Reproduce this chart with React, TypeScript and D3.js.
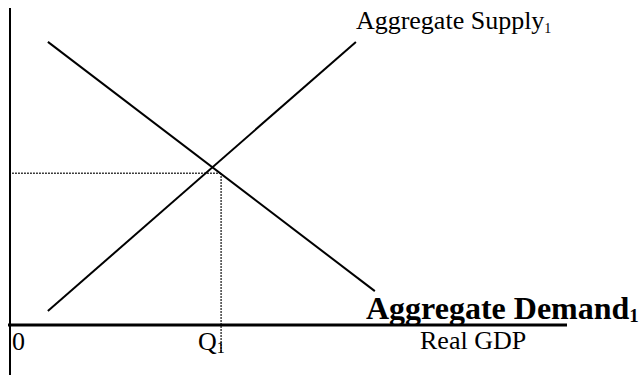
import React from 'react';
import * as d3 from 'd3';

// curve endpoints in chart units (quantity, price level)
const demandQ = [0.68, 6.55];
const demandP = [8.93, 1.07];
const supplyQ = [0.68, 6.21];
const supplyP = [0.44, 8.93];

// dotted guide to the equilibrium
const eqQ = 3.79;
const eqP = 4.79;

const supplyLabel = 'Aggregate Supply';
const demandLabel = 'Aggregate Demand';
const xLabel = 'Real GDP';
const originLabel = '0';
const qLabel = 'Q';
const subLabel = '1';

const W = 640;
const H = 375;
const serif = '"Liberation Serif", "Times New Roman", serif';

const App = () => {
  // axis origin sits at (10, 325)
  const x = d3.scaleLinear().domain([0, 10]).range([10, 567]);
  const y = d3.scaleLinear().domain([0, 10]).range([325, 8]);

  const line = d3.line<[number, number]>()
    .x(d => x(d[0]))
    .y(d => y(d[1]));

  const demand = demandQ.map((q, i) => [q, demandP[i]] as [number, number]);
  const supply = supplyQ.map((q, i) => [q, supplyP[i]] as [number, number]);

  return (
    <svg width={W} height={H} style={{ position: 'absolute', left: 0, top: 0 }}>
      <rect width={W} height={H} fill="#fff" />

      {/* axes */}
      <line x1={x(0)} x2={x(0)} y1={y(10)} y2={H} stroke="#000" strokeWidth={2} />
      <line x1={x(0) - 2} x2={x(10)} y1={y(0)} y2={y(0)} stroke="#000" strokeWidth={3} />

      {/* dotted guides */}
      <path
        d={line([[0.04, eqP], [eqQ, eqP]]) ?? ''}
        fill="none" stroke="#000" strokeWidth={1.5} strokeDasharray="1.5 1.5"
      />
      <path
        d={(line([[eqQ, eqP], [eqQ, 0]]) ?? '') + `L${x(eqQ)},353`}
        fill="none" stroke="#000" strokeWidth={1.5} strokeDasharray="1.5 1.5"
      />

      {/* curves */}
      <path d={line(demand) ?? ''} fill="none" stroke="#000" strokeWidth={2} />
      <path d={line(supply) ?? ''} fill="none" stroke="#000" strokeWidth={2} />

      <g fontFamily={serif} fill="#000">
        <text x={x(supplyQ[1])} y={29} fontSize={26}>
          {supplyLabel}
          <tspan fontSize={14} dy={4}>{subLabel}</tspan>
        </text>
        <text x={366} y={319} fontSize={32} fontWeight="bold">
          {demandLabel}
          <tspan fontSize={19} dy={3}>{subLabel}</tspan>
        </text>
        <text x={420} y={349} fontSize={26}>{xLabel}</text>
        <text x={12} y={350} fontSize={26}>{originLabel}</text>
        <text x={198} y={350} fontSize={26}>
          {qLabel}
          <tspan fontSize={16} dy={3}>{subLabel}</tspan>
        </text>
      </g>
    </svg>
  );
};

export default App;
